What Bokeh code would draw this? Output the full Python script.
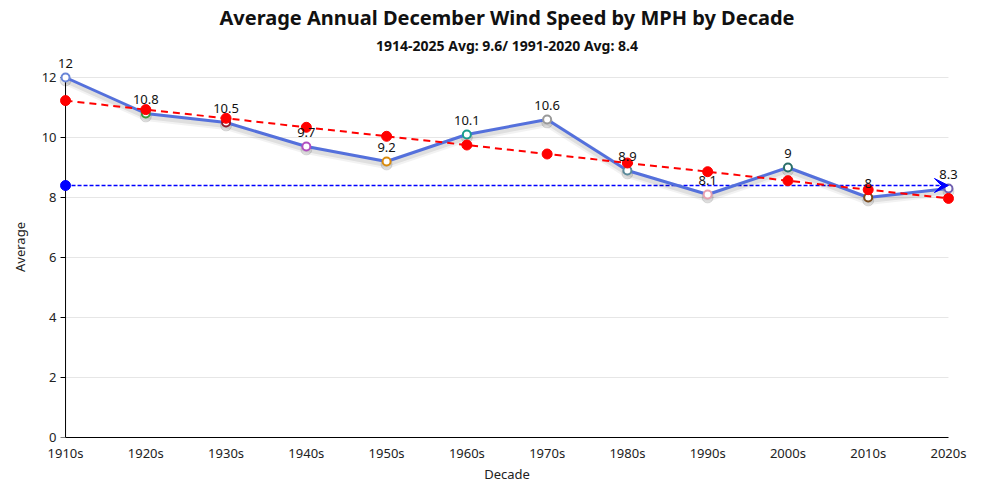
import math
from bokeh.plotting import figure
from bokeh.models import (ColumnDataSource, LabelSet, Title, Arrow, VeeHead, FixedTicker,
                          Range1d, LinearAxis)
from bokeh.core.properties import value
from bokeh.embed import file_html
from bokeh.resources import INLINE

decades = ["1910s", "1920s", "1930s", "1940s", "1950s", "1960s",
           "1970s", "1980s", "1990s", "2000s", "2010s", "2020s"]
values = [12, 10.8, 10.5, 9.7, 9.2, 10.1, 10.6, 8.9, 8.1, 9, 8, 8.3]
value_labels = ["12", "10.8", "10.5", "9.7", "9.2", "10.1", "10.6", "8.9", "8.1", "9", "8", "8.3"]
trend = [11.23, 10.93, 10.64, 10.34, 10.04, 9.75, 9.45, 9.15, 8.86, 8.56, 8.26, 7.97]
normal_avg = 8.4
marker_colors = ["#6a86d8", "#3a9a3a", "#8b1a2b", "#b04fc0", "#d98a0b", "#1a9e8f",
                 "#999999", "#5a8a9a", "#e8a0b0", "#2a6f6a", "#7a4a1a", "#7060b0"]
y_ticks = [0, 2, 4, 6, 8, 10, 12]

FONT = "Noto Sans"
xs = list(range(len(decades)))
x_pad = 0.125  # room so edge markers are not cut
y_top = 12.7   # room for the top value label
shadow_shift = 0.1  # shadow drop, in axis units

src = ColumnDataSource(dict(x=xs, y=values, lab=value_labels, col=marker_colors, t=trend))
grid_src = ColumnDataSource(dict(y=y_ticks[1:]))
tick_src = ColumnDataSource(dict(y=y_ticks))
avg_src = ColumnDataSource(dict(x=[xs[0], xs[-1]], y=[normal_avg, normal_avg]))

p = figure(frame_width=903, frame_height=381, output_backend="svg", toolbar_location=None,
           x_range=Range1d(xs[0] - x_pad, xs[-1] + x_pad), y_range=Range1d(y_ticks[0], y_top),
           x_axis_location=None, y_axis_location=None,
           min_border_left=55, min_border_right=26, min_border_top=0, min_border_bottom=50)
p.extra_y_ranges = {"shadow": Range1d(y_ticks[0] + shadow_shift, y_top + shadow_shift)}
p.outline_line_color = None
p.background_fill_color = "white"
p.border_fill_color = "white"
p.xgrid.grid_line_color = None
p.ygrid.grid_line_color = None

p.add_layout(Title(text="1914-2025 Avg: 9.6/ 1991-2020 Avg: 8.4", align="center",
                   text_font=FONT, text_font_size="14px", text_font_style="bold",
                   text_color="#111", standoff=3), "above")
p.add_layout(Title(text="Average Annual December Wind Speed by MPH by Decade", align="center",
                   text_font=FONT, text_font_size="20px", text_font_style="bold",
                   text_color="#111", standoff=3), "above")

# x axis (line limited to the decades)
xaxis = LinearAxis(bounds=(xs[0], xs[-1]))
xaxis.ticker = FixedTicker(ticks=xs)
xaxis.major_label_overrides = {i: d for i, d in zip(xs, decades)}
xaxis.major_tick_line_color = None
xaxis.minor_tick_line_color = None
xaxis.major_tick_out = 0
xaxis.major_tick_in = 0
xaxis.major_label_standoff = 6
xaxis.axis_label = "Decade"
xaxis.axis_label_standoff = 0
xaxis.axis_line_color = "black"

# y axis: labels from the axis, line and ticks drawn at the first decade
yaxis = LinearAxis()
yaxis.ticker = FixedTicker(ticks=y_ticks)
yaxis.minor_tick_line_color = None
yaxis.major_tick_line_color = None
yaxis.major_tick_in = 0
yaxis.major_tick_out = 0
yaxis.major_label_standoff = -1
yaxis.axis_line_color = None
yaxis.axis_label = "Average"
yaxis.axis_label_standoff = 10
for ax in (xaxis, yaxis):
    ax.major_label_text_font = FONT
    ax.major_label_text_font_size = "13px"
    ax.major_label_text_color = "#222"
    ax.axis_label_text_font = FONT
    ax.axis_label_text_font_size = "13px"
    ax.axis_label_text_font_style = "normal"
    ax.axis_label_text_color = "#222"
p.add_layout(xaxis, "below")
p.add_layout(yaxis, "left")

# horizontal grid lines spanning the decades
p.segment(x0=xs[0], x1=xs[-1], y0="y", y1="y", source=grid_src, line_color="#e6e6e6", line_width=1)
# y axis line and outward ticks
p.segment(x0=xs[0], x1=xs[0], y0=y_ticks[0], y1=y_ticks[-1], line_color="black", line_width=1)
p.ray(x=xs[0], y="y", source=tick_src, length=5, length_units="screen", angle=math.pi,
      line_color="black", line_width=1)

# 1991-2020 normal line with arrow
p.line("x", "y", source=avg_src, line_color="blue", line_width=1.5, line_dash="4 2")
p.add_layout(Arrow(end=VeeHead(size=14, fill_color="blue", line_color="blue"),
                   x_start=xs[-2], y_start=normal_avg, x_end=xs[-1], y_end=normal_avg,
                   line_alpha=0))
p.scatter([xs[0]], [normal_avg], size=10, color="blue")

# main line with soft shadow
p.line("x", "y", source=src, y_range_name="shadow", line_color="black", line_alpha=0.05, line_width=9)
p.line("x", "y", source=src, y_range_name="shadow", line_color="black", line_alpha=0.08, line_width=5)
p.scatter("x", "y", source=src, y_range_name="shadow", size=11, color="black", alpha=0.1)
p.line("x", "y", source=src, line_color="#5470dc", line_width=3)
p.scatter("x", "y", source=src, size=8, fill_color="white", line_color="col", line_width=2)

# trend
p.line("x", "t", source=src, line_color="red", line_width=2, line_dash="7 5")
p.scatter("x", "t", source=src, size=10, color="red")

p.add_layout(LabelSet(x="x", y="y", text="lab", source=src, y_offset=10,
                      text_align="center", text_baseline="bottom",
                      text_font=value(FONT), text_font_size="13px", text_color="#111"))

open("out.html", "w").write(file_html(p, INLINE))
